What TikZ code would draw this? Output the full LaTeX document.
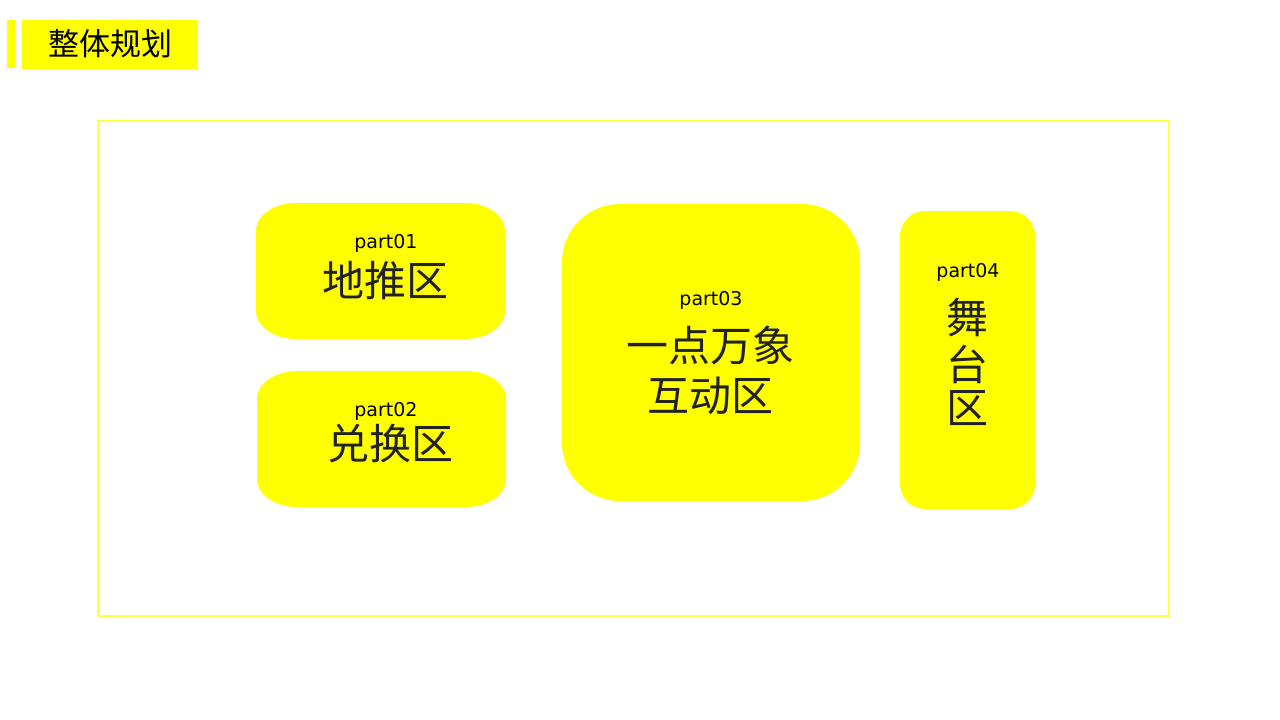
\documentclass[tikz,border=0pt]{standalone}
\usepackage{fontspec}
\setmainfont{DejaVu Sans}
\newfontfamily\cjk{Noto Sans CJK SC}
\definecolor{yel}{HTML}{FFFF00}
\definecolor{bord}{HTML}{FFFF40}
\definecolor{txt}{HTML}{222222}
\begin{document}
\begin{tikzpicture}[x=1pt,y=-1pt,
  zone/.style={fill=yel,draw=none,inner sep=0pt},
  ghost/.style={draw=none,fill=none,inner sep=0pt},
  partlbl/.style={font=\fontsize{19}{19}\selectfont,text=black,inner sep=0pt},
  zh/.style={font=\cjk\fontsize{42}{48}\selectfont,text=txt,inner sep=0pt,align=center},
]
\useasboundingbox (0,0) rectangle (1280,720);
% title
\fill[yel] (7,20) rectangle (15,68);
\node[zone,minimum width=175pt,minimum height=49pt] (title) at (109.5,44.5) {};
\node[font=\cjk\fontsize{31}{31}\selectfont,text=black,inner sep=0pt] (titletxt) at (110,44) {整体规划};
% outer frame
\draw[bord,line width=2pt] (98,121) rectangle (1169,616);
% zones 1 and 2 (elliptical corners)
\node[ghost,minimum width=249pt,minimum height=136pt] (z1) at (380.5,271) {};
\fill[yel] (296,203) -- (465,203) .. controls (487.1,203) and (505,215.5) .. (505,231)
  -- (505,311) .. controls (505,326.5) and (487.1,339) .. (465,339)
  -- (296,339) .. controls (273.9,339) and (256,326.5) .. (256,311)
  -- (256,231) .. controls (256,215.5) and (273.9,203) .. (296,203) -- cycle;
\node[ghost,minimum width=249pt,minimum height=136pt] (z2) at (381.5,439) {};
\fill[yel] (297,371) -- (466,371) .. controls (488.1,371) and (506,383.5) .. (506,399)
  -- (506,479) .. controls (506,494.5) and (488.1,507) .. (466,507)
  -- (297,507) .. controls (274.9,507) and (257,494.5) .. (257,479)
  -- (257,399) .. controls (257,383.5) and (274.9,371) .. (297,371) -- cycle;
\node[zone,rounded corners=58pt,minimum width=298pt,minimum height=297pt] (z3) at (711,352.5) {};
\node[zone,rounded corners=25pt,minimum width=135pt,minimum height=298pt] (z4) at (967.5,360) {};
% labels
\node[partlbl] (p1) at (386,243) {part01};
\node[zh] (t1) at (385,281) {地推区};
\node[partlbl] (p2) at (386,411) {part02};
\node[zh] (t2) at (390,444) {兑换区};
\node[partlbl] (p3) at (711,300) {part03};
\node[zh] (t3a) at (710,345) {一点万象};
\node[zh] (t3b) at (710,396) {互动区};
\node[partlbl] (p4) at (968,272) {part04};
\node[zh] (t4a) at (967,318) {舞};
\node[zh] (t4b) at (967,364) {台};
\node[zh] (t4c) at (967,408) {区};
\end{tikzpicture}
\end{document}
